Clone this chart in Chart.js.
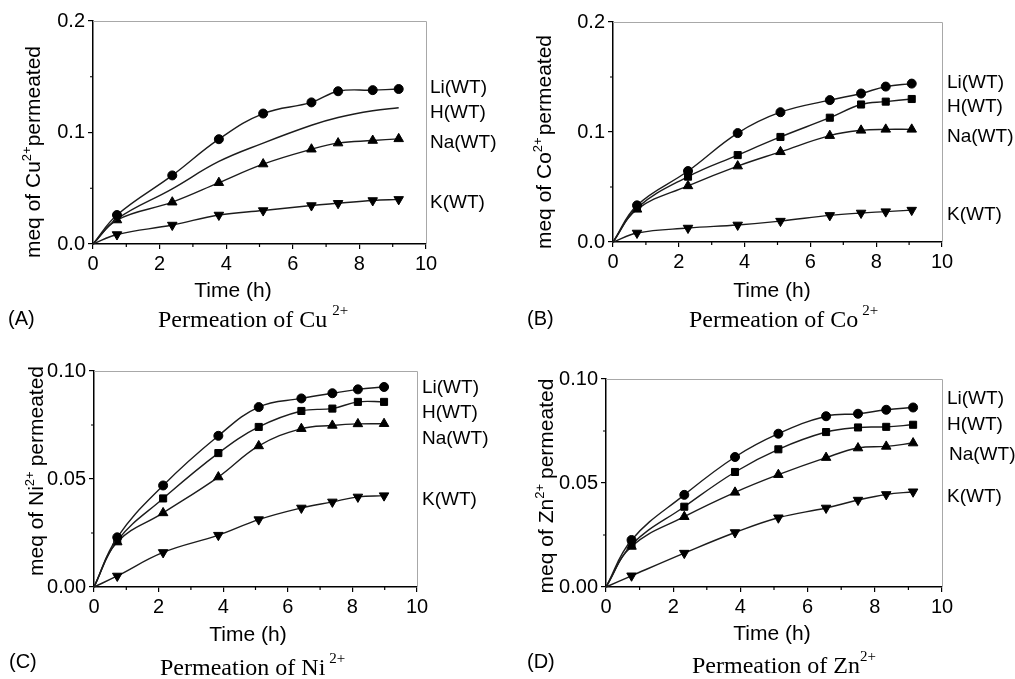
<!DOCTYPE html>
<html>
<head>
<meta charset="utf-8">
<title>Permeation of metal ions</title>
<script src="https://cdn.jsdelivr.net/npm/chart.js@4"></script>
<style>
  body { margin: 0; background: #fff; }
  #wrap { position: relative; width: 1015px; height: 679px; overflow: hidden; }
  canvas { position: absolute; }
</style>
</head>
<body>
<div id="wrap">
  <canvas id="cA" width="507" height="340" style="left:0;top:0"></canvas>
  <canvas id="cB" width="508" height="340" style="left:507px;top:0"></canvas>
  <canvas id="cC" width="507" height="339" style="left:0;top:340px"></canvas>
  <canvas id="cD" width="508" height="339" style="left:507px;top:340px"></canvas>
</div>
<script>
// series names, same order in every panel
const seriesNames = ['Li(WT)', 'H(WT)', 'Na(WT)', 'K(WT)'];
const xTickLabels = ['0', '2', '4', '6', '8', '10'];

// (A) Cu2+
const cuTime = [0, 0.72, 2.38, 3.78, 5.11, 6.56, 7.36, 8.40, 9.18];
const cuLi = [0, 0.026, 0.0615, 0.094, 0.117, 0.127, 0.137, 0.138, 0.139];
const cuH  = [0, 0.0225, 0.0495, 0.074, 0.0905, 0.1065, 0.1135, 0.1195, 0.1222];
const cuNa = [0, 0.0215, 0.0375, 0.055, 0.0717, 0.085, 0.0905, 0.0928, 0.0943];
const cuK  = [0, 0.0085, 0.017, 0.026, 0.030, 0.0345, 0.0365, 0.039, 0.040];
const cuYLabels = ['0.0', '0.1', '0.2'];

// (B) Co2+
const coTime = [0, 0.73, 2.28, 3.79, 5.09, 6.59, 7.54, 8.29, 9.08];
const coLi = [0, 0.0333, 0.0645, 0.099, 0.118, 0.129, 0.135, 0.1413, 0.144];
const coH  = [0, 0.031, 0.0594, 0.079, 0.0955, 0.113, 0.125, 0.1276, 0.130];
const coNa = [0, 0.0297, 0.051, 0.069, 0.082, 0.0967, 0.1015, 0.1024, 0.1024];
const coK  = [0, 0.0082, 0.0127, 0.0155, 0.019, 0.0242, 0.0264, 0.0276, 0.029];
const coYLabels = ['0.0', '0.1', '0.2'];

// (C) Ni2+
const niTime = [0, 0.72, 2.14, 3.85, 5.10, 6.42, 7.38, 8.17, 8.98];
const niLi = [0, 0.023, 0.047, 0.070, 0.0833, 0.0873, 0.0897, 0.0915, 0.0926];
const niH  = [0, 0.0215, 0.041, 0.062, 0.0741, 0.0815, 0.0826, 0.0857, 0.0857];
const niNa = [0, 0.0208, 0.0343, 0.0509, 0.0653, 0.0733, 0.0748, 0.0755, 0.0756];
const niK  = [0, 0.0051, 0.016, 0.024, 0.0312, 0.0366, 0.0394, 0.0417, 0.0423];
const niYLabels = ['0.00', '0.05', '0.10'];

// (D) Zn2+
const znTime = [0, 0.76, 2.33, 3.84, 5.13, 6.55, 7.50, 8.34, 9.14];
const znLi = [0, 0.0226, 0.0443, 0.0625, 0.0737, 0.0821, 0.0833, 0.0852, 0.0863];
const znH  = [0, 0.0203, 0.0386, 0.0553, 0.0662, 0.0745, 0.0767, 0.0770, 0.0780];
const znNa = [0, 0.0195, 0.0338, 0.0455, 0.054, 0.0622, 0.0668, 0.0676, 0.0692];
const znK  = [0, 0.0054, 0.0163, 0.0262, 0.0333, 0.038, 0.0418, 0.0445, 0.0458];
const znYLabels = ['0.00', '0.05', '0.10'];

const SANS = "'Liberation Sans', Arial, sans-serif";
const SERIF = "'Liberation Serif', 'Times New Roman', serif";

// layout of each panel, in page pixels
const panels = [
  { canvas: 'cA', ox: 0, oy: 0, tag: '(A)', ion: 'Cu', time: cuTime, series: [cuLi, cuH, cuNa, cuK],
    yMax: 0.2, yStep: 0.05, yLabels: cuYLabels, hMarkers: false,
    area: [93, 21, 426, 244],
    yTitle: { x: 40, cy: 152, gap: 0 }, xTitle: { cx: 233, y: 297 },
    tagPos: { x: 8, y: 325 }, cap: { x: 158, y: 327, gap: 5 },
    labelX: 430, labelY: [88, 113, 143, 203] },
  { canvas: 'cB', ox: 507, oy: 0, tag: '(B)', ion: 'Co', time: coTime, series: [coLi, coH, coNa, coK],
    yMax: 0.2, yStep: 0.05, yLabels: coYLabels, hMarkers: true,
    area: [613, 22, 942, 242],
    yTitle: { x: 551, cy: 142, gap: 2 }, xTitle: { cx: 772, y: 297 },
    tagPos: { x: 527, y: 325 }, cap: { x: 689, y: 327, gap: 4 },
    labelX: 947, labelY: [83, 107, 137, 215] },
  { canvas: 'cC', ox: 0, oy: 340, tag: '(C)', ion: 'Ni', time: niTime, series: [niLi, niH, niNa, niK],
    yMax: 0.1, yStep: 0.025, yLabels: niYLabels, hMarkers: true,
    area: [94, 371, 417, 587],
    yTitle: { x: 43, cy: 471, gap: 5 }, xTitle: { cx: 248, y: 641 },
    tagPos: { x: 9, y: 668 }, cap: { x: 160, y: 675, gap: 4 },
    labelX: 422, labelY: [388, 413, 439, 500] },
  { canvas: 'cD', ox: 507, oy: 340, tag: '(D)', ion: 'Zn', time: znTime, series: [znLi, znH, znNa, znK],
    yMax: 0.1, yStep: 0.025, yLabels: znYLabels, hMarkers: true,
    area: [606, 379, 942, 587],
    yTitle: { x: 553, cy: 486, gap: 5 }, xTitle: { cx: 772, y: 640 },
    tagPos: { x: 527, y: 668 }, cap: { x: 692, y: 673, gap: 0 },
    labelX: 947, labelY: [399, 425, 455, 497], labelDx: [0, 0, 2, 0] }
];

const markers = [
  { style: 'circle', r: 4.5, rot: 0 },
  { style: 'rect', r: 5, rot: 0 },
  { style: 'triangle', r: 5.5, rot: 0 },
  { style: 'triangle', r: 5.5, rot: 180 }
];

const decor = {
  id: 'decor',
  afterDraw(chart, args, o) {
    const p = o.panel;
    const { ctx, chartArea: a, scales } = chart;
    ctx.save();
    // grey frame on top and right
    ctx.strokeStyle = '#a8a8a8';
    ctx.lineWidth = 1;
    ctx.beginPath();
    ctx.moveTo(a.left, Math.round(a.top) + 0.5);
    ctx.lineTo(Math.round(a.right) + 0.5, Math.round(a.top) + 0.5);
    ctx.lineTo(Math.round(a.right) + 0.5, a.bottom);
    ctx.stroke();
    // short minor ticks
    ctx.strokeStyle = '#000';
    ctx.lineWidth = 1.2;
    ctx.beginPath();
    scales.x.ticks.forEach((t, i) => {
      if (i % 2 === 1) {
        const px = scales.x.getPixelForValue(t.value);
        ctx.moveTo(px, a.bottom);
        ctx.lineTo(px, a.bottom + 3);
      }
    });
    scales.y.ticks.forEach((t, i) => {
      if (i % 2 === 1) {
        const py = scales.y.getPixelForValue(t.value);
        ctx.moveTo(a.left, py);
        ctx.lineTo(a.left - 3, py);
      }
    });
    ctx.stroke();

    // texts, in page coordinates
    ctx.translate(-p.ox, -p.oy);
    ctx.fillStyle = '#000';
    ctx.textBaseline = 'middle';
    ctx.textAlign = 'left';
    ctx.font = '19px ' + SANS;
    seriesNames.forEach((name, i) => {
      const dx = p.labelDx ? p.labelDx[i] : 0;
      ctx.fillText(name, p.labelX + dx, p.labelY[i]);
    });

    ctx.textBaseline = 'alphabetic';
    ctx.font = '21px ' + SANS;
    ctx.textAlign = 'center';
    ctx.fillText('Time (h)', p.xTitle.cx, p.xTitle.y);

    ctx.textAlign = 'left';
    ctx.font = '20px ' + SANS;
    ctx.fillText(p.tag, p.tagPos.x, p.tagPos.y);

    // caption in serif
    ctx.font = '24px ' + SERIF;
    const capText = 'Permeation of ' + p.ion;
    ctx.fillText(capText, p.cap.x, p.cap.y);
    const cw = ctx.measureText(capText).width;
    ctx.font = '15px ' + SERIF;
    ctx.fillText('2+', p.cap.x + cw + p.cap.gap, p.cap.y - 12);

    // rotated y title with superscript
    const main = 'meq of ' + p.ion;
    const rest = 'permeated';
    ctx.font = '21px ' + SANS;
    const w1 = ctx.measureText(main).width;
    const w2 = ctx.measureText(rest).width;
    ctx.font = '13px ' + SANS;
    const ws = ctx.measureText('2+').width;
    const total = w1 + ws + p.yTitle.gap + w2;
    ctx.translate(p.yTitle.x, p.yTitle.cy);
    ctx.rotate(-Math.PI / 2);
    let x = -total / 2;
    ctx.font = '21px ' + SANS;
    ctx.fillText(main, x, 0);
    x += w1;
    ctx.font = '13px ' + SANS;
    ctx.fillText('2+', x, -9);
    x += ws + p.yTitle.gap;
    ctx.font = '21px ' + SANS;
    ctx.fillText(rest, x, 0);
    ctx.restore();
  }
};

Chart.defaults.font.family = SANS;
Chart.defaults.color = '#000';

panels.forEach(p => {
  const el = document.getElementById(p.canvas);
  const W = el.width, H = el.height;
  const YW = 60, XH = 40;
  const l = p.area[0] - p.ox, t = p.area[1] - p.oy;
  const r = p.area[2] - p.ox, b = p.area[3] - p.oy;

  const datasets = p.series.map((vals, si) => {
    const m = markers[si];
    const showMarks = si !== 1 || p.hMarkers;
    return {
      label: seriesNames[si],
      data: p.time.map((tt, i) => ({ x: tt, y: vals[i] })),
      borderColor: '#1c1c1c',
      borderWidth: 1.4,
      tension: 0.4,
      pointStyle: m.style,
      pointRotation: m.rot,
      pointRadius: c => (c.dataIndex === 0 || !showMarks) ? 0 : m.r,
      pointBackgroundColor: '#000',
      pointBorderColor: '#000',
      pointBorderWidth: 1,
      clip: false
    };
  });

  new Chart(el, {
    type: 'line',
    data: { datasets },
    options: {
      responsive: false,
      animation: false,
      devicePixelRatio: 1,
      layout: { padding: { left: l - YW, top: t, right: W - r, bottom: H - b - XH } },
      plugins: { legend: { display: false }, tooltip: { enabled: false }, decor: { panel: p } },
      scales: {
        x: {
          type: 'linear',
          min: 0, max: 10,
          afterFit: s => { s.height = XH; },
          ticks: {
            stepSize: 1,
            autoSkip: false,
            maxRotation: 0,
            padding: 3,
            font: { size: 20 },
            callback: (v, i) => i % 2 === 0 ? xTickLabels[i / 2] : ''
          },
          grid: {
            drawOnChartArea: false,
            drawTicks: true,
            tickLength: 5,
            lineWidth: 1.2,
            color: c => c.index % 2 === 0 ? '#000' : 'rgba(0,0,0,0)'
          },
          border: { color: '#000', width: 1.5 }
        },
        y: {
          min: 0, max: p.yMax,
          afterFit: s => { s.width = YW; },
          ticks: {
            stepSize: p.yStep,
            autoSkip: false,
            padding: 3,
            font: { size: 20 },
            callback: (v, i) => i % 2 === 0 ? p.yLabels[i / 2] : ''
          },
          grid: {
            drawOnChartArea: false,
            drawTicks: true,
            tickLength: 5,
            lineWidth: 1.2,
            color: c => c.index % 2 === 0 ? '#000' : 'rgba(0,0,0,0)'
          },
          border: { color: '#000', width: 1.5 }
        }
      }
    },
    plugins: [decor]
  });
});
</script>
</body>
</html>
